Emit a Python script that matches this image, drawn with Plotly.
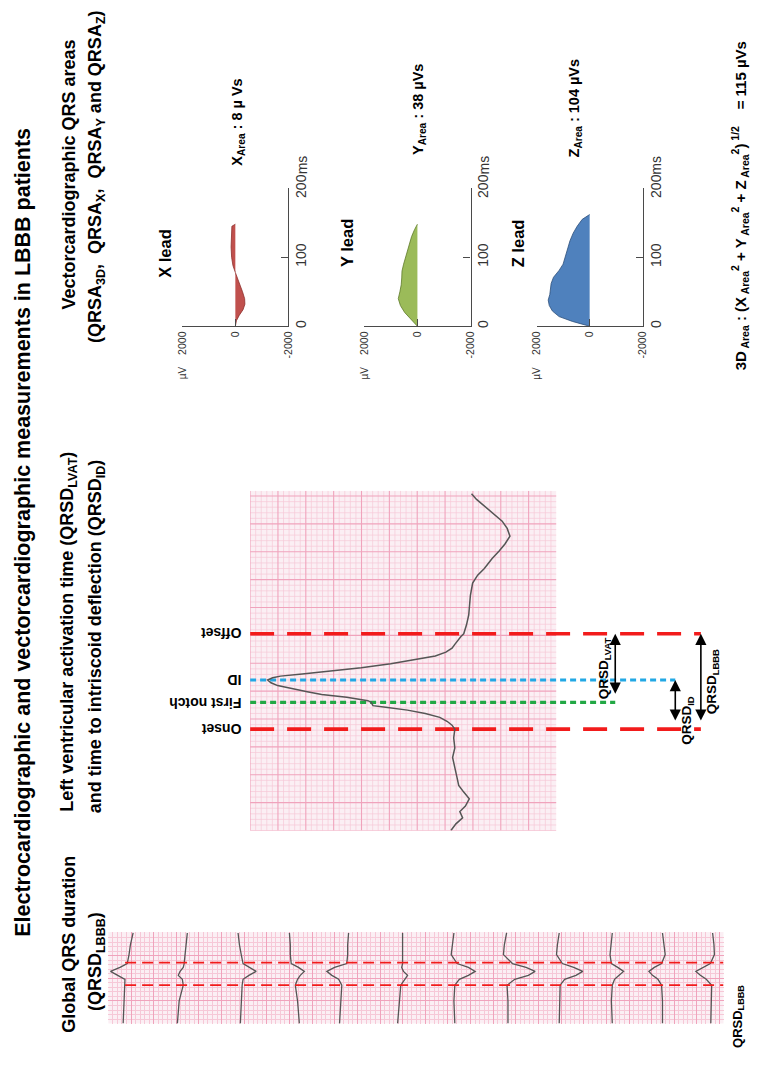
import plotly.graph_objects as go

W, H = 760, 1065

# ------------------------------------------------------------------ DATA
# Middle panel: single LBBB lead, time (ms) vs amplitude (mV)
ECG_T_MS = [0, 12, 23, 34, 44, 57, 69, 81, 95, 113, 131, 148, 166, 182, 189, 196,
            203, 210, 216, 221, 224, 230, 233, 239, 244, 249, 254, 260, 265, 270,
            274, 277, 281, 286, 292, 299, 306, 313, 320, 327, 334, 341, 348, 353,
            369, 387, 405, 422, 444, 458, 470, 488, 502, 514, 528, 542, 555, 569,
            581, 594, 604]
ECG_MV = [0.07, -0.02, -0.14, -0.09, -0.19, -0.26, -0.16, -0.07, -0.04, 0.0, 0.04,
          0.0, 0.02, 0.0, 0.05, 0.14, 0.27, 0.53, 0.85, 1.24, 1.47, 1.50, 1.56,
          1.94, 2.39, 2.65, 2.92, 3.18, 3.30, 3.36, 3.27, 3.13, 2.74, 2.21, 1.68,
          1.15, 0.71, 0.35, 0.16, 0.05, 0.0, -0.05, -0.11, -0.16, -0.21, -0.25,
          -0.27, -0.28, -0.32, -0.41, -0.53, -0.67, -0.80, -0.90, -0.99, -0.94,
          -0.85, -0.69, -0.55, -0.39, -0.30]
EVENT_NAMES = ["Onset", "First notch", "ID", "Offset"]
EVENT_T_MS = [182, 230, 270, 353]

# Left panel: 12-lead strip, shared time samples (ms) and amplitude per lead (mV)
STRIP_T_MS = [0, 200, 339, 391, 426, 461, 496, 530, 609, 696, 800]
STRIP_LEADS_MV = [
    [0.13, 0.11, 0.09, 0.09, 0.25, 0.41, 0.20, 0.04, 0.00, -0.03, -0.09],
    [0.15, 0.11, 0.02, 0.04, 0.13, 0.09, 0.02, 0.00, -0.02, -0.04, -0.07],
    [0.02, 0.00, -0.02, -0.04, -0.17, -0.33, -0.17, -0.04, 0.00, 0.04, 0.07],
    [-0.11, -0.07, -0.02, -0.07, -0.13, -0.22, -0.09, 0.07, 0.09, 0.09, 0.11],
    [0.09, 0.07, 0.04, 0.11, 0.26, 0.37, 0.20, -0.07, -0.09, -0.09, -0.11],
    [0.09, 0.04, 0.02, -0.07, -0.13, -0.04, 0.00, -0.02, -0.02, -0.02, -0.02],
    [0.00, 0.02, 0.00, -0.10, -0.30, -0.45, -0.30, -0.05, 0.08, 0.05, 0.02],
    [0.00, 0.00, 0.02, -0.15, -0.45, -0.60, -0.40, -0.10, 0.10, 0.08, 0.03],
    [0.02, 0.00, 0.00, -0.10, -0.35, -0.50, -0.30, -0.05, 0.08, 0.06, 0.02],
    [0.00, 0.02, 0.00, -0.05, -0.15, -0.25, -0.12, 0.02, 0.05, 0.03, 0.00],
    [0.00, 0.00, 0.02, 0.10, 0.22, 0.30, 0.18, 0.02, -0.06, -0.04, 0.00],
    [0.02, 0.00, 0.00, 0.12, 0.25, 0.35, 0.20, 0.03, -0.06, -0.05, -0.02],
]
STRIP_QRS_MS = [339, 539]

# Right panel: vectorcardiographic leads, time (ms) vs amplitude (µV)
VCG_X_T = [0, 8, 16, 24, 32, 40, 50, 60, 70, 78, 88, 100, 115, 130, 145, 148]
VCG_X_UV = [0, -40, -150, -290, -360, -350, -270, -170, -60, 0, 90, 140, 160, 150, 130, 0]
VCG_Y_T = [0, 10, 20, 30, 40, 50, 60, 70, 80, 90, 100, 110, 120, 130, 140, 148]
VCG_Y_UV = [0, 250, 480, 640, 720, 660, 610, 590, 580, 520, 450, 370, 300, 220, 110, 0]
VCG_Z_T = [0, 7, 14, 22, 30, 38, 46, 54, 62, 71, 81, 90, 100, 110, 124, 135, 145, 155, 162]
VCG_Z_UV = [0, 650, 1150, 1400, 1520, 1560, 1500, 1480, 1450, 1360, 1150, 1000, 930,
            860, 740, 620, 470, 280, 0]
AREA_LABELS = ["8 µ Vs", "38 µVs", "104 µVs"]
AREA_3D = "115 µVs"

# ------------------------------------------------------------------ STYLE
FONT = "Liberation Sans"
TXT = "#000000"
AX = "#4a4a4a"
PINK_BG = "#FBEFF4"
PINK_MINOR = "#F6C8D7"
PINK_MAJOR = "#F0A3BC"
RED = "#F21B1B"
BLUE = "#22A8E4"
GREEN = "#22A845"
TRACE = "#555555"


def px(x):
    return x / W


def py(y):
    return 1 - y / H


# middle ECG geometry (pixels) and scale
ECG_BASE_PX, ECG_PX_PER_MV, ECG_PX_PER_MS = 455, 56.6, 0.566
ECG_DOM_X = (247, 722)
ECG_DOM_Y = (829, 484)  # bottom (t=0), top
ECG_GRID_RIGHT_PX = 558


def mv_at(xpx):
    return (ECG_BASE_PX - xpx) / ECG_PX_PER_MV


ECG_XR = [mv_at(ECG_DOM_X[0]), mv_at(ECG_DOM_X[1])]
ECG_TMAX = (ECG_DOM_Y[0] - ECG_DOM_Y[1]) / ECG_PX_PER_MS
GRID_LEFT_MV, GRID_RIGHT_MV = mv_at(ECG_DOM_X[0]), mv_at(ECG_GRID_RIGHT_PX)

# strip geometry
STRIP_DOM_X = (103, 728)
STRIP_DOM_Y = (1025, 932)
STRIP_PX_PER_MV, STRIP_PX_PER_MS = 46, 0.115
LEAD_CENTER_PX = [124, 180, 238, 292, 342, 401, 455, 509, 562, 615, 666, 716]
STRIP_LINE_START_PX = 120

fig = go.Figure()

# ---------------- middle ECG grid (drawn through the ECG axes)
minor_x, minor_y, major_x, major_y = [], [], [], []
k = 0
while True:
    a = GRID_LEFT_MV - k * 0.1
    if a < GRID_RIGHT_MV - 1e-6:
        break
    tx, ty = (major_x, major_y) if k % 5 == 0 else (minor_x, minor_y)
    tx += [a, a, None]
    ty += [0, ECG_TMAX, None]
    k += 1
k = 0
while k * 10 <= ECG_TMAX + 1e-6:
    t = k * 10
    tx, ty = (major_x, major_y) if k % 5 == 0 else (minor_x, minor_y)
    tx += [GRID_LEFT_MV, GRID_RIGHT_MV, None]
    ty += [t, t, None]
    k += 1
fig.add_trace(go.Scatter(x=minor_x, y=minor_y, xaxis="x2", yaxis="y2", mode="lines",
                         line=dict(color=PINK_MINOR, width=0.7), hoverinfo="skip"))
fig.add_trace(go.Scatter(x=major_x, y=major_y, xaxis="x2", yaxis="y2", mode="lines",
                         line=dict(color=PINK_MAJOR, width=1.1), hoverinfo="skip"))

# event guide lines
ARROW_COL_PX = {"LVAT": 618, "ID": 679, "LBBB": 705}
ev = dict(zip(EVENT_NAMES, EVENT_T_MS))
line_end = {"Onset": ARROW_COL_PX["LBBB"], "Offset": ARROW_COL_PX["LBBB"],
            "ID": ARROW_COL_PX["ID"], "First notch": ARROW_COL_PX["LVAT"]}
line_style = {"Onset": dict(color=RED, width=3.6, dash="24px,13px"),
              "Offset": dict(color=RED, width=3.6, dash="24px,13px"),
              "ID": dict(color=BLUE, width=3.2, dash="6px,4px"),
              "First notch": dict(color=GREEN, width=3.2, dash="6px,4px")}
for name in EVENT_NAMES:
    fig.add_trace(go.Scatter(x=[GRID_LEFT_MV, mv_at(line_end[name])], y=[ev[name], ev[name]],
                             xaxis="x2", yaxis="y2", mode="lines", line=line_style[name],
                             hoverinfo="skip"))

fig.add_trace(go.Scatter(x=ECG_MV, y=ECG_T_MS, xaxis="x2", yaxis="y2", mode="lines",
                         line=dict(color=TRACE, width=1.5), hoverinfo="skip"))

# ---------------- 12-lead strip
for i, amps in enumerate(STRIP_LEADS_MV):
    off = (LEAD_CENTER_PX[i] - STRIP_DOM_X[0]) / STRIP_PX_PER_MV
    fig.add_trace(go.Scatter(x=[off - a for a in amps], y=STRIP_T_MS, xaxis="x", yaxis="y",
                             mode="lines", line=dict(color=TRACE, width=1.3),
                             hoverinfo="skip"))
strip_xmax = (STRIP_DOM_X[1] - STRIP_DOM_X[0]) / STRIP_PX_PER_MV
strip_tmax = (STRIP_DOM_Y[0] - STRIP_DOM_Y[1]) / STRIP_PX_PER_MS
x_start = (STRIP_LINE_START_PX - STRIP_DOM_X[0]) / STRIP_PX_PER_MV
for t in STRIP_QRS_MS:
    fig.add_trace(go.Scatter(x=[x_start, strip_xmax], y=[t, t], xaxis="x", yaxis="y",
                             mode="lines", line=dict(color=RED, width=1.8, dash="11px,6px"),
                             hoverinfo="skip"))

# ---------------- VCG areas
VCG = [(VCG_X_T, VCG_X_UV, "#C0504D", "#8E2F2C"),
       (VCG_Y_T, VCG_Y_UV, "#9BBB59", "#5E7A2A"),
       (VCG_Z_T, VCG_Z_UV, "#4F81BD", "#2D4F7A")]
for j, (tt, uv, fc, lc) in enumerate(VCG):
    n = j + 3
    fig.add_trace(go.Scatter(x=uv, y=tt, xaxis=f"x{n}", yaxis=f"y{n}", mode="lines",
                             fill="tozerox", fillcolor=fc, line=dict(color=lc, width=0.8),
                             hoverinfo="skip"))

# ------------------------------------------------------------------ LAYOUT
lay = dict(width=W, height=H, margin=dict(l=0, r=0, t=0, b=0), autosize=False,
           paper_bgcolor="white", plot_bgcolor="rgba(0,0,0,0)", showlegend=False,
           font=dict(family=FONT, color=TXT))

hidden = dict(showline=False, showticklabels=False, ticks="", zeroline=False,
              showgrid=False, fixedrange=True)
lay["xaxis"] = dict(hidden, domain=[px(STRIP_DOM_X[0]), px(STRIP_DOM_X[1])],
                    range=[0, strip_xmax], anchor="y",
                    showgrid=True, gridcolor=PINK_MAJOR, gridwidth=1, dtick=0.5, tick0=0,
                    minor=dict(dtick=0.1, tick0=0, showgrid=True, gridcolor=PINK_MINOR,
                               gridwidth=0.6))
lay["yaxis"] = dict(hidden, domain=[py(STRIP_DOM_Y[0]), py(STRIP_DOM_Y[1])],
                    range=[0, strip_tmax], anchor="x",
                    showgrid=True, gridcolor=PINK_MAJOR, gridwidth=1, dtick=200, tick0=0,
                    minor=dict(dtick=40, tick0=0, showgrid=True, gridcolor=PINK_MINOR,
                               gridwidth=0.6))
lay["xaxis2"] = dict(hidden, domain=[px(ECG_DOM_X[0]), px(ECG_DOM_X[1])], range=ECG_XR,
                     anchor="y2")
lay["yaxis2"] = dict(hidden, domain=[py(ECG_DOM_Y[0]), py(ECG_DOM_Y[1])],
                     range=[0, ECG_TMAX], anchor="x2")

VCG_DOM_X = [(178, 286), (363, 471), (538, 646)]
VCG_DOM_Y = (317, 177)
for j, (a, b) in enumerate(VCG_DOM_X):
    n = j + 3
    lay[f"xaxis{n}"] = dict(domain=[px(a), px(b)], range=[2000, -2000], anchor=f"y{n}",
                            showline=True, linecolor=AX, linewidth=1.2, ticks="inside",
                            ticklen=7, tickcolor=AX, tickwidth=1.2,
                            tickvals=[2000, 0, -2000], ticktext=["2000", "0", "-2000"],
                            tickangle=-90, tickfont=dict(size=10.5, color="#333333"),
                            showgrid=False, zeroline=False, fixedrange=True)
    lay[f"yaxis{n}"] = dict(domain=[py(VCG_DOM_Y[0]), py(VCG_DOM_Y[1])], range=[0, 200],
                            anchor=f"x{n}", side="right", showline=True, linecolor=AX,
                            linewidth=1.2, ticks="inside", ticklen=7, tickcolor=AX,
                            tickwidth=1.2, tickvals=[0, 100, 200], ticktext=["0", "100", "200"],
                            tickangle=-90, tickfont=dict(size=14, color="#333333"),
                            showgrid=False, zeroline=False, fixedrange=True)

fig.update_layout(**lay)

# backgrounds
fig.add_shape(type="rect", xref="x domain", yref="y domain", x0=0, x1=1, y0=0, y1=1,
              fillcolor=PINK_BG, line=dict(width=0), layer="below")
fig.add_shape(type="rect", xref="x2", yref="y2", x0=GRID_LEFT_MV, x1=GRID_RIGHT_MV,
              y0=0, y1=ECG_TMAX, fillcolor=PINK_BG, line=dict(width=0), layer="below")

ann = []


def text(t, x, y, size, angle=-90, bold=True, **kw):
    d = dict(text=f"<b>{t}</b>" if bold else t, x=x, y=y, xref=kw.pop("xref", "paper"),
             yref=kw.pop("yref", "paper"), showarrow=False, textangle=angle,
             font=dict(size=size, family=FONT, color=kw.pop("color", TXT)),
             xanchor=kw.pop("xanchor", "center"), yanchor=kw.pop("yanchor", "middle"))
    d.update(kw)
    ann.append(d)


# title & column headers
text("Electrocardiographic and vectorcardiographic measurements in LBBB patients",
     px(16), py(526), 21.5)
text("Global QRS duration", px(63), py(945), 18)
text("(QRSD<sub>LBBB</sub>)", px(91), py(962), 18)
text("Left ventricular activation time (QRSD<sub>LVAT</sub>)", px(63), py(812), 18,
     yanchor="bottom")
text("and time to intriscoid deflection (QRSD<sub>ID</sub>)", px(91), py(814), 18,
     yanchor="bottom")
text("Vectorcardiographic QRS areas", px(63), py(163), 18)
text("(QRSA<sub>3D</sub>,  QRSA<sub>X</sub>,  QRSA<sub>Y</sub> and QRSA<sub>Z</sub>)",
     px(91), py(165), 18)

# event labels (upside-down, left of the grid)
for name in EVENT_NAMES:
    text(name, px(240), ev[name], 14, angle=180, xanchor="right", yref="y2")

# double arrows
arrows = [("LVAT", ev["Offset"], ev["First notch"]),
          ("ID", ev["ID"], ev["Onset"]),
          ("LBBB", ev["Offset"], ev["Onset"])]
for key, t_top, t_bot in arrows:
    col = mv_at(ARROW_COL_PX[key])
    ann.append(dict(xref="x2", yref="y2", axref="x2", ayref="y2", x=col, y=t_top, ax=col,
                    ay=t_bot, text=" ", showarrow=True, arrowhead=2, arrowside="end+start",
                    arrowsize=1.4, arrowwidth=1.6, arrowcolor="black", standoff=0,
                    startstandoff=0))
text("QRSD<sub>LVAT</sub>", mv_at(ARROW_COL_PX["LVAT"]), (ev["Offset"] + ev["First notch"]) / 2,
     13.5, xref="x2", yref="y2", xshift=-11)
text("QRSD<sub>ID</sub>", mv_at(ARROW_COL_PX["ID"]), ev["ID"], 13.5, xref="x2", yref="y2",
     xshift=12, yanchor="top", yshift=-14)
text("QRSD<sub>LBBB</sub>", mv_at(ARROW_COL_PX["LBBB"]), (ev["Offset"] + ev["Onset"]) / 2,
     13.5, xref="x2", yref="y2", xshift=12)

# strip label
text("QRSD<sub>LBBB</sub>", px(743), py(1018), 13)

# VCG labels
LEAD_NAMES = ["X lead", "Y lead", "Z lead"]
LEAD_LABEL_POS = [(161, 243), (346, 233), (520, 233)]
AREA_POS = [(235, 110), (418, 97), (577, 95)]
for j in range(3):
    n = j + 3
    lx, ly = LEAD_LABEL_POS[j]
    text(LEAD_NAMES[j], px(lx), py(ly), 16.5)
    axn = LEAD_NAMES[j][0]
    ax_, ay_ = AREA_POS[j]
    text(f"{axn}<sub>Area</sub> : {AREA_LABELS[j]}", px(ax_), py(ay_), 14.5)
    text("µV", 2000, py(356), 10, bold=False, xref=f"x{n}", yanchor="top",
         color="#333333")
    text("ms", -2000, 200, 14, bold=False, xref=f"x{n}", yref=f"y{n}", xanchor="left",
         yanchor="bottom", xshift=3, yshift=12, color="#333333")

text("3D<sub> Area</sub> : (X<sub> Area</sub><sup>2</sup> + Y<sub> Area</sub><sup>2</sup>"
     " + Z<sub> Area</sub><sup>2</sup>)<sup> 1/2</sup>    = " + AREA_3D,
     px(744), py(364), 15, yanchor="bottom")

fig.update_layout(annotations=ann)
fig.write_html("out.html")
